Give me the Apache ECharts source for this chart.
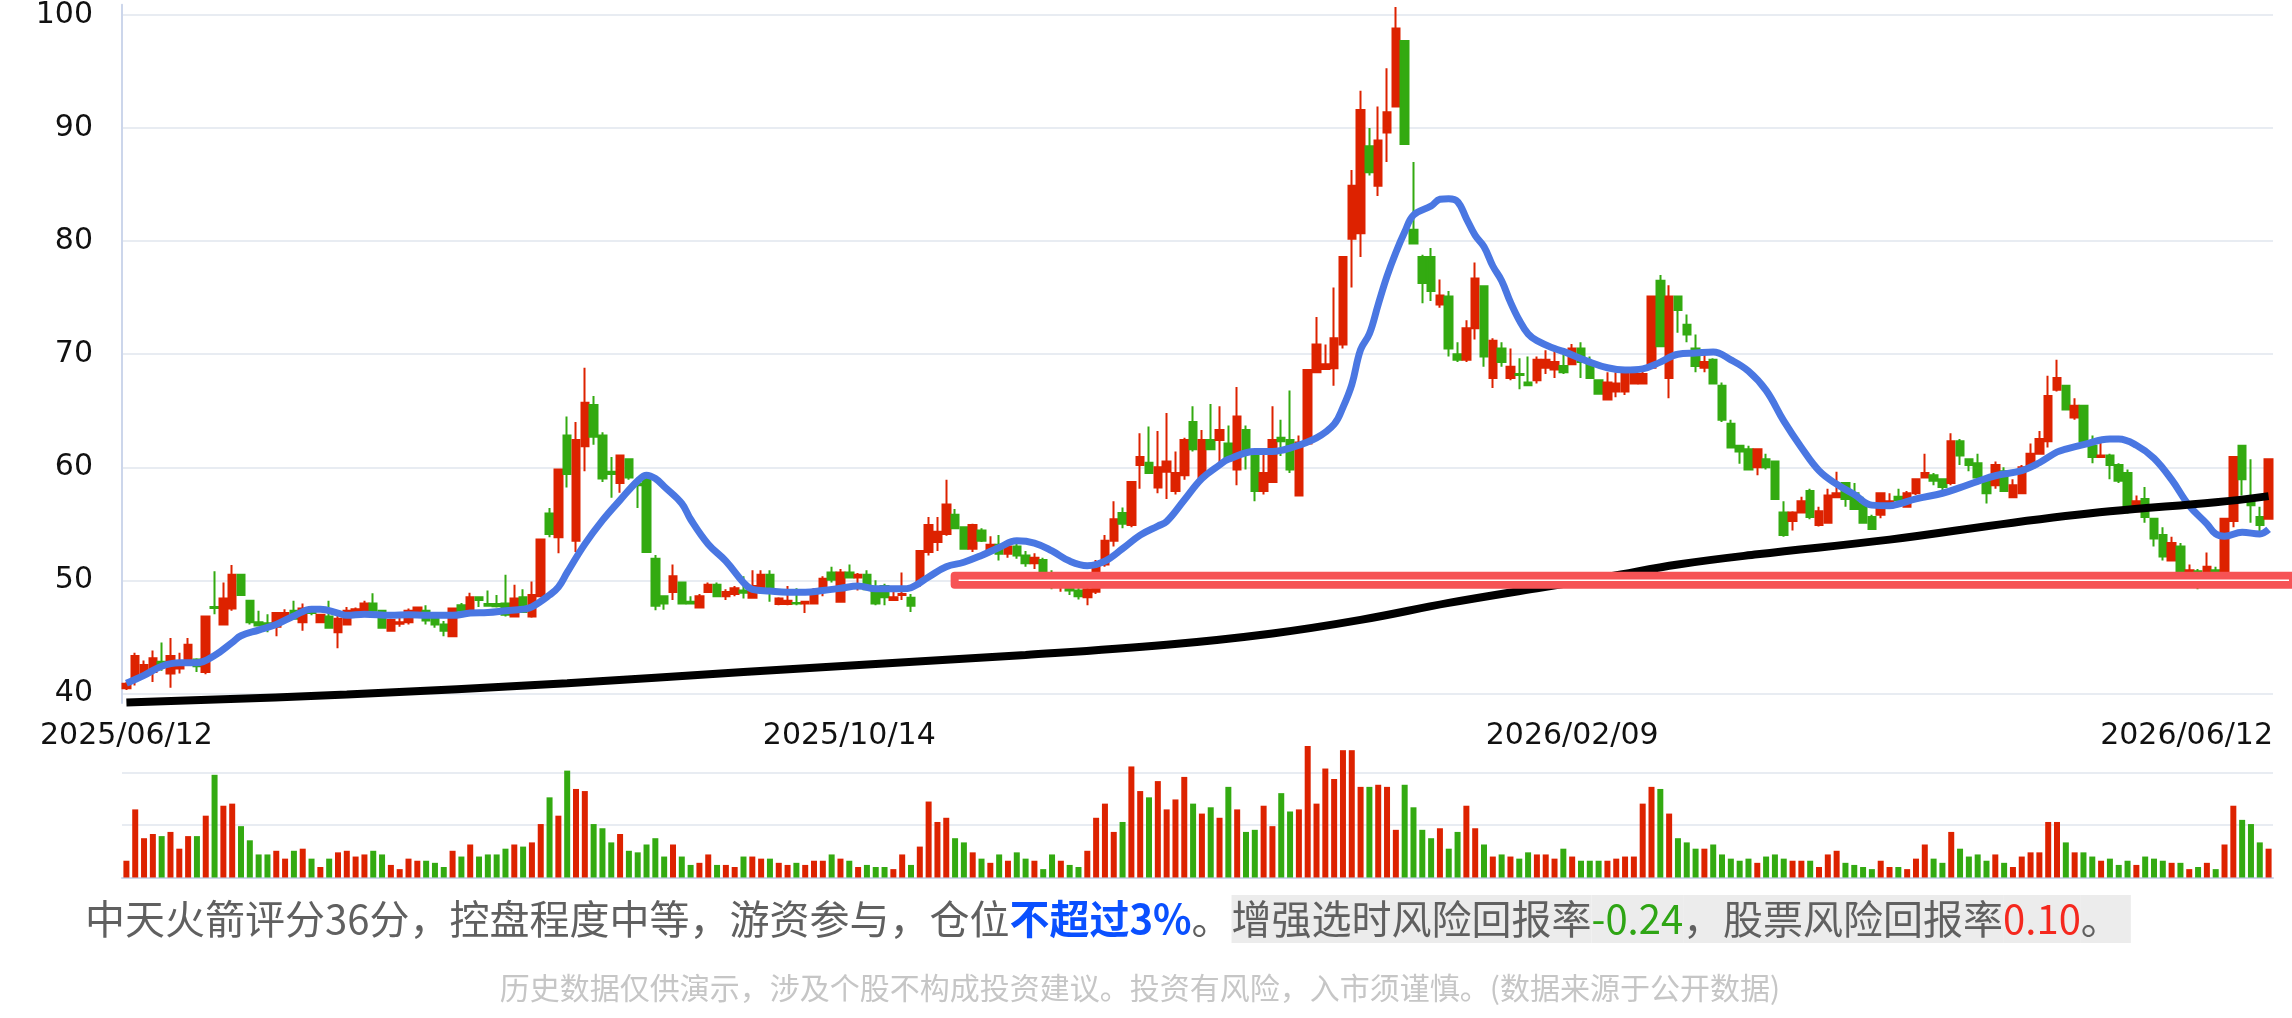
<!DOCTYPE html>
<html>
<head>
<meta charset="utf-8">
<script src="https://cdn.jsdelivr.net/npm/echarts@6/dist/echarts.min.js"></script>
<style>
html, body { margin: 0; padding: 0; background: #fff; }
#chart { width: 2292px; height: 1018px; }
</style>
</head>
<body>
<div id="chart"></div>
<script>
// 交易日：从起始日开始，跳过周末和休市日
const startDay = '2025-06-12';
const holidays = ['2025-10-01','2025-10-02','2025-10-03','2025-10-06','2025-10-07','2025-10-08',
  '2026-01-01','2026-01-02','2026-02-16','2026-02-17','2026-02-18','2026-02-19','2026-02-20','2026-02-23',
  '2026-04-06','2026-05-01','2026-05-04','2026-05-05'];
const tickLabels = ['2025/06/12', '2025/10/14', '2026/02/09', '2026/06/12'];

// K线 [开, 收, 低, 高]
const candles = [
  [40.45,40.85,40.3,41.0],[41.2,43.3,40.7,43.6],[41.6,42.5,41.4,42.9],[41.9,43.1,41.0,43.8],[42.8,42.5,42.0,44.5],
  [41.75,43.3,40.5,44.9],[42.2,42.8,41.75,43.6],[42.6,44.3,42.5,44.9],[43.0,42.4,41.9,43.1],[41.9,46.8,41.7,46.8],
  [47.65,47.55,47.0,50.8],[46.1,48.4,46.1,49.8],[47.5,50.5,47.3,51.35],[50.5,48.7,48.7,50.5],[48.2,46.3,46.1,48.2],
  [46.3,46.0,46.0,47.3],[46.2,46.1,45.4,47.0],[45.9,47.1,45.05,47.1],[46.5,47.1,46.4,47.45],[47.3,46.6,46.6,48.2],
  [46.3,47.5,45.55,47.95],[47.4,47.1,46.9,47.6],[46.3,46.95,46.3,47.0],[46.8,45.8,45.8,48.2],[45.4,46.6,44.0,47.3],
  [46.1,47.3,46.1,47.65],[47.0,47.45,46.9,47.6],[47.3,47.95,47.0,48.2],[47.95,47.3,47.2,48.85],[47.3,45.8,45.8,47.3],
  [45.55,46.5,45.55,46.6],[46.15,46.3,45.9,46.8],[46.3,47.3,46.1,47.5],[46.9,47.6,46.8,47.6],[47.3,46.45,46.1,47.8],
  [46.6,46.1,45.8,47.0],[46.1,45.55,45.05,46.4],[45.05,47.5,45.05,47.6],[47.8,47.3,47.2,48.0],[47.3,48.5,47.2,48.9],
  [48.5,48.25,47.65,48.6],[47.9,47.75,47.7,49.1],[47.9,47.7,47.6,48.7],[47.95,46.95,46.8,50.5],[46.8,48.4,46.8,49.6],
  [48.5,47.2,47.2,49.2],[46.8,48.7,46.7,49.9],[48.6,53.6,48.6,53.6],[55.9,54.1,53.8,56.4],[53.8,59.8,52.4,59.8],
  [62.8,59.4,58.2,64.5],[53.5,62.4,52.5,64.0],[61.85,65.7,59.65,68.8],[65.5,62.7,62.0,66.3],[62.8,59.0,58.7,63.1],
  [59.6,59.4,57.3,60.9],[58.6,61.05,57.75,61.05],[60.7,59.1,58.9,60.7],[58.55,58.4,56.4,59.1],[59.1,52.5,52.5,59.1],
  [51.9,47.75,47.35,52.25],[48.6,47.95,47.4,48.6],[48.97,50.35,48.25,51.4],[49.8,47.95,47.95,49.8],[48.1,47.95,47.9,48.6],
  [47.6,48.6,47.6,48.8],[48.97,49.6,48.97,49.8],[49.6,48.6,48.6,49.8],[48.6,48.97,48.25,49.2],[48.8,49.3,48.6,49.5],
  [49.1,48.9,48.4,50.35],[48.45,49.5,48.45,50.9],[49.27,50.5,48.8,50.9],[50.5,49.1,48.1,50.9],[47.9,48.4,47.8,48.5],
  [47.9,48.2,47.8,49.5],[48.0,47.95,47.8,49.3],[47.95,48.1,47.1,48.2],[47.95,49.1,47.95,49.3],[48.97,50.15,48.6,50.35],
  [50.7,50.05,49.8,51.2],[48.1,50.7,48.1,51.0],[50.7,50.25,50.25,51.4],[50.25,50.5,49.1,50.65],[50.5,49.2,49.2,50.9],
  [49.1,47.95,47.8,50.0],[49.5,48.5,47.8,49.7],[48.25,48.5,48.25,49.5],[48.7,48.8,48.25,50.7],[48.45,47.75,47.2,48.8],
  [49.85,52.6,49.4,52.6],[52.5,54.9,52.2,55.6],[53.4,54.3,52.6,55.6],[54.1,56.7,53.95,58.9],[55.8,54.6,54.6,56.3],
  [54.7,52.8,52.8,54.7],[52.8,54.9,52.5,55.0],[54.4,53.5,53.4,54.6],[52.6,53.15,52.6,53.9],[53.15,52.35,51.75,54.0],
  [52.35,53.0,52.0,53.4],[53.0,52.2,51.9,53.5],[52.2,51.5,51.2,52.6],[51.5,52.0,51.0,52.4],[51.8,50.6,50.3,52.0],
  [50.6,49.5,49.2,50.9],[49.4,50.0,49.0,50.5],[49.9,49.1,48.7,50.2],[49.1,48.6,48.3,49.5],[48.5,49.2,47.8,49.6],
  [49.0,51.5,48.8,51.8],[51.4,53.5,51.2,54.0],[53.5,55.4,53.0,57.0],[55.95,55.0,54.6,56.45],[54.9,58.7,54.7,58.7],
  [60.2,60.9,58.1,63.0],[60.4,59.5,59.5,63.6],[58.2,60.0,57.7,63.2],[59.6,60.5,57.2,64.8],[57.9,59.5,57.6,61.4],
  [59.3,62.4,58.9,62.6],[64.0,61.6,61.4,65.4],[59.1,62.4,59.0,63.3],[62.4,61.6,61.6,65.6],[62.4,63.3,60.0,65.4],
  [62.1,60.9,60.9,63.7],[59.8,64.5,58.4,67.1],[63.3,61.4,59.8,63.7],[61.2,57.9,57.0,61.6],[57.9,59.5,57.6,61.1],
  [58.7,62.4,58.7,65.4],[62.6,62.3,61.0,64.2],[62.4,59.8,59.5,66.8],[57.5,62.2,57.5,62.8],[62.1,68.6,62.0,68.6],
  [68.4,70.85,68.4,73.3],[68.7,69.1,68.7,70.85],[68.75,71.4,67.2,75.9],[70.85,78.6,70.5,78.6],[80.2,84.9,75.9,86.3],
  [80.7,91.6,78.6,93.3],[88.4,86.1,85.8,90.0],[84.9,88.9,84.0,91.9],[89.6,91.4,87.0,95.3],[91.9,98.8,91.9,100.7],
  [97.7,88.6,88.6,97.7],[81.0,79.8,79.8,87.0],[78.6,76.3,74.5,78.8],[78.6,75.6,74.7,79.4],[74.4,75.2,74.1,76.6],
  [75.1,70.5,69.8,75.6],[70.0,69.5,69.3,71.05],[69.5,72.3,69.3,73.0],[72.3,76.7,71.3,78.1],[76.0,69.8,68.9,76.0],
  [67.9,71.2,67.0,71.4],[70.5,69.3,68.9,71.05],[67.9,68.9,67.7,70.5],[68.25,68.15,66.9,69.65],[67.5,67.25,67.25,69.8],
  [67.7,69.5,67.4,69.8],[68.8,69.5,68.25,70.35],[68.65,69.3,67.9,70.5],[68.95,68.4,68.25,70.35],[69.1,70.5,69.1,70.9],
  [70.5,69.3,67.9,71.05],[69.1,67.9,67.9,69.8],[67.7,66.5,66.5,67.7],[66.0,67.5,66.0,68.4],[66.7,67.4,66.2,68.4],
  [66.7,68.25,66.4,68.6],[67.4,68.25,67.4,68.6],[67.4,68.25,67.4,68.95],[68.8,75.1,68.8,75.1],[76.5,70.7,70.7,77.0],
  [67.9,75.1,66.1,76.1],[75.1,73.9,71.9,75.1],[72.6,71.75,71.05,73.5],[70.5,68.95,68.4,71.75],[68.8,69.3,68.4,70.2],
  [69.5,67.4,67.4,69.65],[67.2,64.2,64.0,67.5],[63.85,61.75,61.75,64.2],[61.9,61.4,60.3,61.9],[61.6,59.8,59.8,61.9],
  [60.0,61.6,59.3,61.6],[60.7,60.0,59.8,61.2],[60.5,57.2,57.2,60.5],[56.0,54.0,53.85,57.0],[55.25,56.0,54.4,56.1],
  [56.0,57.0,56.0,57.4],[57.9,55.6,55.4,58.1],[54.9,56.1,54.75,56.5],[55.1,57.5,55.1,58.1],[57.35,57.7,57.35,59.6],
  [58.6,57.2,56.5,58.6],[57.7,56.3,56.3,58.6],[56.8,55.1,55.1,57.4],[55.6,54.55,54.55,55.8],[55.8,57.7,55.5,57.7],
  [56.9,57.0,56.4,57.7],[57.4,57.1,57.0,58.1],[56.5,57.7,56.5,57.9],[57.7,58.95,57.55,58.95],[59.1,59.5,59.1,61.2],
  [59.3,58.8,58.4,59.5],[58.95,58.25,57.9,58.95],[58.6,62.3,58.4,63.0],[62.3,61.05,60.2,62.5],[60.7,60.2,59.65,60.7],
  [60.35,59.1,58.95,61.2],[58.95,57.7,56.8,58.95],[58.4,60.2,58.1,60.5],[59.65,57.9,57.9,60.0],[57.35,58.4,57.35,58.95],
  [57.7,60.0,57.7,60.2],[60.0,61.2,60.0,62.1],[61.2,62.5,61.2,63.2],[62.3,66.3,61.75,68.1],[66.85,67.9,66.7,69.5],
  [67.2,65.1,65.1,67.2],[64.4,65.45,64.2,66.1],[65.45,62.3,62.3,65.45],[61.9,60.9,60.35,62.8],[60.9,61.05,60.9,62.3],
  [61.05,60.2,58.95,61.2],[60.2,58.8,58.6,60.35],[59.5,56.1,55.9,59.8],[56.1,57.0,56.1,57.5],[57.2,55.6,55.1,58.25],
  [55.45,53.7,53.0,55.45],[54.0,52.1,51.75,54.7],[51.75,53.3,51.75,53.85],[53.0,50.3,50.0,53.3],[50.8,50.9,49.6,51.4],
  [50.8,50.5,49.2,51.0],[50.8,51.2,50.0,52.45],[50.9,50.7,50.0,51.2],[50.4,55.45,50.0,55.45],[55.25,60.9,54.7,60.9],
  [61.9,58.95,57.5,61.9],[57.2,56.65,55.1,60.7],[55.6,54.9,53.85,56.5],[55.45,60.7,55.45,60.7]
];

// 成交量（相对单位）
const volumes = [
  0.32,1.30,0.75,0.83,0.79,0.87,0.55,0.79,0.79,1.18,
  1.96,1.37,1.41,0.98,0.71,0.44,0.44,0.51,0.36,0.51,
  0.55,0.36,0.20,0.36,0.48,0.51,0.40,0.44,0.51,0.44,
  0.24,0.16,0.36,0.32,0.32,0.28,0.20,0.51,0.40,0.63,
  0.40,0.44,0.44,0.55,0.63,0.59,0.67,1.02,1.53,1.18,
  2.04,1.69,1.65,1.02,0.94,0.67,0.83,0.51,0.48,0.63,
  0.75,0.40,0.63,0.40,0.24,0.28,0.44,0.24,0.24,0.20,
  0.40,0.40,0.36,0.36,0.28,0.24,0.28,0.24,0.32,0.32,
  0.44,0.36,0.32,0.20,0.24,0.20,0.20,0.16,0.44,0.24,
  0.59,1.45,1.06,1.14,0.75,0.67,0.48,0.36,0.28,0.44,
  0.32,0.48,0.36,0.32,0.16,0.44,0.32,0.24,0.20,
  0.51,1.14,1.41,0.87,1.06,2.12,1.65,1.53,1.84,1.30,
  1.49,1.92,1.41,1.22,1.34,1.14,1.73,1.30,0.87,0.91,
  1.37,0.98,1.61,1.26,1.30,2.51,1.41,2.08,1.88,2.43,
  2.43,1.73,1.73,1.77,1.73,0.91,1.77,1.34,0.91,0.75,
  0.94,0.55,0.87,1.37,0.94,0.63,0.40,0.44,0.40,0.36,
  0.48,0.44,0.44,0.36,0.55,0.40,0.32,0.32,0.32,0.32,
  0.36,0.40,0.40,1.41,1.73,1.69,1.22,0.75,0.67,0.55,
  0.55,0.63,0.44,0.36,0.32,0.36,0.28,0.40,0.44,0.36,
  0.32,0.32,0.32,0.20,0.44,0.51,0.28,0.24,0.20,0.16,
  0.32,0.20,0.20,0.16,0.36,0.63,0.36,0.28,0.87,0.55,
  0.40,0.44,0.32,0.44,0.28,0.20,0.40,0.48,0.48,1.06,
  1.06,0.67,0.48,0.48,0.40,0.32,0.36,0.24,0.32,0.24,
  0.40,0.36,0.32,0.28,0.28,0.16,0.20,0.28,0.16,0.63,
  1.37,1.10,1.02,0.67,0.55
];

// 蓝色均线（按K线序号取点）
const maIdx = [0,2,4,6,8,10,12,13,15,17,19,21,22,24,25,27,30,32,34,37,39,41,43,45,46,48,49,50,52,54,56,58,59,60,61,63,64,66,68,70,71,73,75,77,79,81,83,85,88,89,91,93,95,97,99,101,103,105,107,109,111,113,115,117,118,120,122,124,125,128,130,132,135,137,138,139,140,141,142,143,144,145,146,148,149,150,151,152,153,154,155,156,157,158,159,160,162,163,166,168,170,172,174,176,178,180,182,184,186,188,190,192,194,196,198,200,201,203,206,208,210,212,215,217,219,220,222,225,226,228,230,232,234,236,237,238,240,242,243];
const maVal = [40.9,41.6,42.4,42.7,42.7,43.35,44.5,45.1,45.6,46.1,46.85,47.45,47.45,47.1,46.9,47.0,46.9,46.95,46.9,46.9,47.1,47.15,47.3,47.45,47.65,48.7,49.4,50.7,53.2,55.3,57.1,58.8,59.3,59.0,58.3,56.8,55.4,53.2,51.7,49.8,49.2,49.05,48.95,48.95,49.1,49.3,49.5,49.25,49.25,49.35,50.3,51.2,51.6,52.2,52.9,53.5,53.3,52.6,51.7,51.3,51.7,52.8,54.0,54.8,55.2,57.1,59.0,60.2,60.7,61.4,61.4,61.7,62.6,63.8,65.3,67.3,70.4,71.8,74.4,76.9,79.0,80.8,82.3,83.1,83.7,83.75,83.5,82.0,80.5,79.5,77.8,76.5,74.6,73.0,71.8,71.2,70.5,70.25,69.3,68.8,68.6,68.7,69.3,70.0,70.1,70.2,69.5,68.5,66.8,64.1,61.75,59.7,58.5,57.6,56.65,56.6,56.75,57.2,57.7,58.2,58.75,59.25,59.7,60.4,61.35,61.6,62.0,62.5,62.5,61.95,60.8,58.9,56.6,55.0,54.1,53.9,54.25,54.1,54.5];

// 黑色长期均线
const longIdx = [0,25,50,70,85,102,118,130,140,150,160,168,176,185,200,214,225,237,243];
const longVal = [39.2,39.9,40.9,41.9,42.6,43.4,44.3,45.3,46.5,48.0,49.3,50.3,51.4,52.3,53.6,55.1,56.1,56.9,57.45];

// 支撑位
const supportPrice = 50;
const supportFrom = 93;

const red = '#dd2200';
const green = '#33aa11';

function tradingDays(start, n) {
  const out = [];
  const d = new Date(start + 'T00:00:00Z');
  while (out.length < n) {
    const w = d.getUTCDay();
    const s = d.toISOString().slice(0, 10);
    if (w !== 0 && w !== 6 && holidays.indexOf(s) < 0) out.push(s.replace(/-/g, '/'));
    d.setUTCDate(d.getUTCDate() + 1);
  }
  return out;
}
const dates = tradingDays(startDay, candles.length);
const lastDate = dates[dates.length - 1];

const volData = volumes.map((v, i) => ({
  value: v,
  itemStyle: { color: candles[i][1] >= candles[i][0] ? red : green }
}));
const maData = maIdx.map((x, i) => [x, maVal[i]]);
const longData = longIdx.map((x, i) => [x, longVal[i]]);

const chart = echarts.init(document.getElementById('chart'));

const axisFont = 'DejaVu Sans';
const cjkFont = '"Noto Sans CJK SC", "Noto Sans", sans-serif';
const fs1 = 40;

const option = {
  animation: false,
  backgroundColor: '#fff',
  grid: [
    { left: 122, right: 19, top: 0, height: 703 },
    { left: 122, right: 19, top: 746, height: 131.5 }
  ],
  xAxis: [
    {
      type: 'category', gridIndex: 0, data: dates, boundaryGap: true,
      axisLine: { show: false }, axisTick: { show: false }, splitLine: { show: false },
      axisLabel: {
        interval: (idx, val) => tickLabels.indexOf(val) >= 0,
        formatter: (val) => val === lastDate ? '{e|' + val + '}' : val,
        color: '#111', fontSize: 30, fontFamily: axisFont, margin: 18,
        rich: { e: { color: '#111', fontSize: 30, fontFamily: axisFont, padding: [0, 164, 0, 0] } }
      }
    },
    {
      type: 'category', gridIndex: 1, data: dates, boundaryGap: true,
      axisLine: { show: true, lineStyle: { color: '#ccd6eb', width: 2 } },
      axisTick: { show: false }, axisLabel: { show: false }, splitLine: { show: false }
    }
  ],
  yAxis: [
    {
      type: 'value', gridIndex: 0, min: 39.15, max: 100.9, splitNumber: 6,
      axisLine: { show: true, lineStyle: { color: '#ccd6eb', width: 2 } },
      axisTick: { show: false },
      axisLabel: {
        color: '#111', fontSize: 30, fontFamily: axisFont, margin: 29,
        padding: [0, 0, 7, 0],
        showMinLabel: false, showMaxLabel: false
      },
      splitLine: { lineStyle: { color: '#e8ecf2', width: 2 }, showMinLine: false, showMaxLine: false }
    },
    {
      type: 'value', gridIndex: 1, min: 0, max: 'dataMax', interval: 1,
      axisLine: { show: false }, axisTick: { show: false }, axisLabel: { show: false },
      splitLine: { lineStyle: { color: '#e8ecf2', width: 2 }, showMaxLine: false }
    }
  ],
  series: [
    {
      name: 'K线', type: 'candlestick', xAxisIndex: 0, yAxisIndex: 0,
      data: candles, barWidth: 8,
      itemStyle: { color: red, color0: green, borderColor: red, borderColor0: green, borderWidth: 2 }
    },
    {
      name: '均线', type: 'line', xAxisIndex: 0, yAxisIndex: 0, data: maData,
      smooth: 0.4, showSymbol: false, lineStyle: { color: '#4a77e2', width: 7 }, z: 3
    },
    {
      name: '长期均线', type: 'line', xAxisIndex: 0, yAxisIndex: 0, data: longData,
      smooth: 0.4, showSymbol: false, lineStyle: { color: '#000', width: 8 }, z: 3
    },
    {
      name: '成交量', type: 'bar', xAxisIndex: 1, yAxisIndex: 1,
      data: volData, barWidth: 6
    }
  ],
  graphic: [
    {
      id: 'line1', type: 'text', x: 85, y: 919,
      style: {
        text: '{a|中天火箭评分36分，控盘程度中等，游资参与，仓位}{b|不超过3%}{a|。}' +
              '{bx|增强选时风险回报率}{bg|-0.24}{bx|，股票风险回报率}{br|0.10}{be|。}',
        verticalAlign: 'middle', fontFamily: cjkFont, fontSize: fs1,
        rich: {
          a: { fill: '#606060', fontSize: fs1, fontFamily: cjkFont, height: 48 },
          b: { fill: '#0a50ff', fontSize: fs1, fontFamily: cjkFont, fontWeight: 'bold', height: 48 },
          bx: { fill: '#606060', fontSize: fs1, fontFamily: cjkFont, backgroundColor: '#ececec', height: 48 },
          bg: { fill: '#2ea514', fontSize: fs1, fontFamily: cjkFont, backgroundColor: '#ececec', height: 48 },
          br: { fill: '#f5281e', fontSize: fs1, fontFamily: cjkFont, backgroundColor: '#ececec', height: 48 },
          be: { fill: '#606060', fontSize: fs1, fontFamily: cjkFont, backgroundColor: '#ececec', height: 48, padding: [0, 10, 0, 0] }
        }
      }
    },
    {
      id: 'line2', type: 'text', x: 1140, y: 988,
      style: {
        text: '历史数据仅供演示，涉及个股不构成投资建议。投资有风险，入市须谨慎。(数据来源于公开数据)',
        align: 'center', verticalAlign: 'middle',
        fill: '#c6c6c6', fontSize: 30, fontFamily: cjkFont
      }
    }
  ]
};

chart.setOption(option);

// 支撑位色带：位置由坐标轴换算
const p0 = chart.convertToPixel({ gridIndex: 0 }, [supportFrom, supportPrice]);
const p1 = chart.convertToPixel({ gridIndex: 0 }, [supportFrom + 1, supportPrice]);
const bandX = (p0[0] + p1[0]) / 2;
const bandY = p0[1];
chart.setOption({
  graphic: [
    {
      id: 'band', type: 'rect', z: 100,
      shape: { x: bandX, y: bandY - 8.5, width: 2292 - bandX, height: 17, r: [4, 0, 0, 4] },
      style: { fill: '#f65355' }
    },
    {
      id: 'bandLine', type: 'line', z: 101,
      shape: { x1: bandX + 8, y1: bandY, x2: 2289, y2: bandY },
      style: { stroke: '#fff', lineWidth: 1.5 }
    }
  ]
});
</script>
</body>
</html>
